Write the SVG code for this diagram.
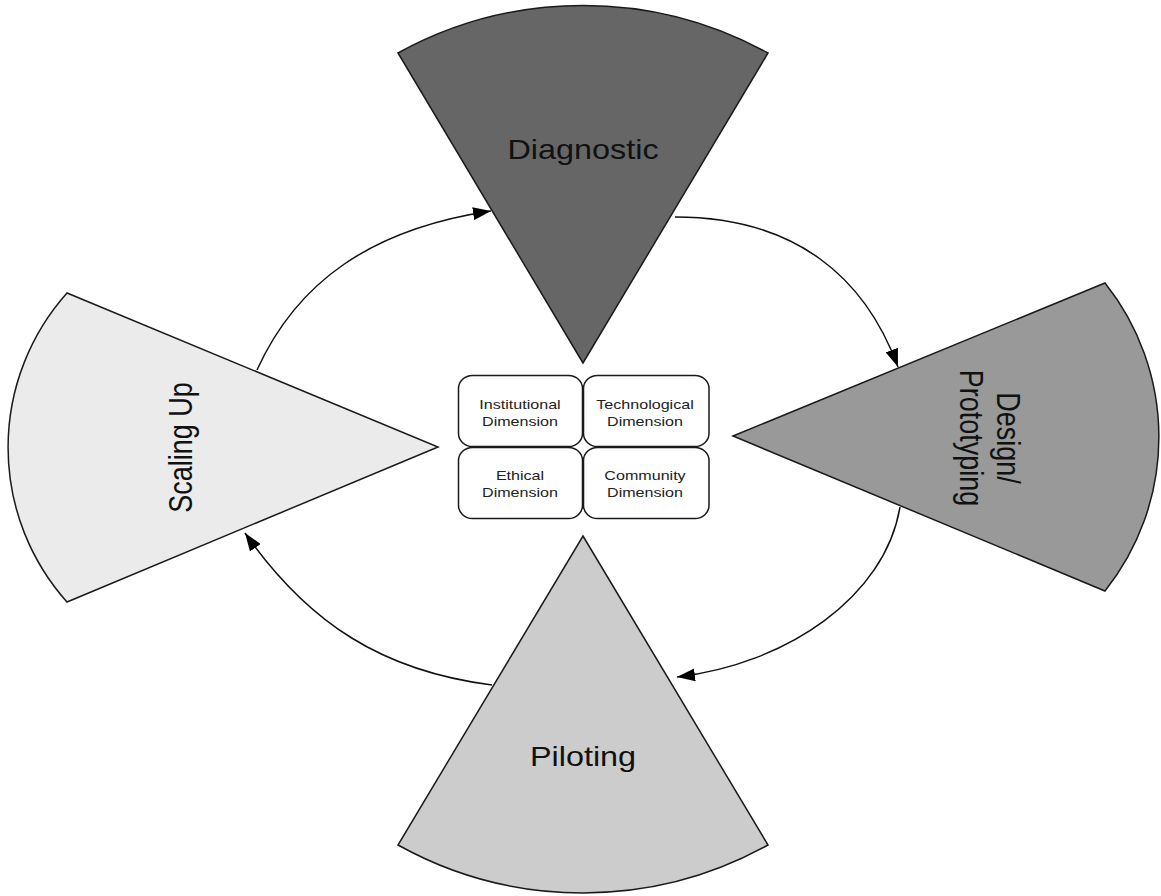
<svg xmlns="http://www.w3.org/2000/svg" width="1161" height="896" viewBox="0 0 1161 896">
  <style>
    .sector { stroke: #1a1a1a; stroke-width: 1.5; stroke-linejoin: miter; }
    .dim { fill: #ffffff; stroke: #1a1a1a; stroke-width: 1.5; }
    .label { font-family: "Liberation Sans", Arial, sans-serif; font-size: 27px; fill: #111111; text-anchor: middle; }
    .small { font-family: "Liberation Sans", Arial, sans-serif; font-size: 13.4px; fill: #222222; text-anchor: middle; }
    .link { fill: none; stroke: #111111; stroke-width: 1.5; }
  </style>
  <defs>
    <marker id="arrow" markerUnits="userSpaceOnUse" markerWidth="19" markerHeight="13" refX="18" refY="6.5" orient="auto">
      <path d="M0,0 L18,6.5 L0,13 Z" fill="#000000"/>
    </marker>
  </defs>
  <rect width="1161" height="896" fill="#ffffff"/>

  <!-- cycle connectors, drawn beneath the phase sectors -->
  <g id="connectors">
    <path class="link" d="M257,370 C297,282 371,229 491,211" marker-end="url(#arrow)"/>
    <path class="link" d="M675,217 C795,217 865,277 898,367" marker-end="url(#arrow)"/>
    <path class="link" d="M900,507 C885,597 787,664 677,677" marker-end="url(#arrow)"/>
    <path class="link" d="M492,685 C382,671 308,623 245,533" marker-end="url(#arrow)"/>
  </g>

  <g id="diagnostic">
    <path class="sector" fill="#666666" d="M583,363 L398,53 A384,384 0 0 1 768,53 Z"/>
    <text class="label" transform="translate(583,159) scale(1.2,1)">Diagnostic</text>
  </g>

  <g id="design-prototyping">
    <path class="sector" fill="#999999" d="M733,436 L1105,283 A247,247 0 0 1 1105,591 Z"/>
    <text class="label" transform="translate(997,438) scale(1.2,1) rotate(90)"><tspan x="0" y="0">Design/</tspan><tspan x="0" y="31">Prototyping</tspan></text>
  </g>

  <g id="piloting">
    <path class="sector" fill="#cccccc" d="M583,536 L768,845 A381,381 0 0 1 398,845 Z"/>
    <text class="label" transform="translate(583,766) scale(1.2,1)">Piloting</text>
  </g>

  <g id="scaling-up">
    <path class="sector" fill="#ebebeb" d="M438,447 L67,602 A232,232 0 0 1 67,293 Z"/>
    <text class="label" transform="translate(192,447.5) scale(1.2,1) rotate(-90)">Scaling Up</text>
  </g>

  <!-- four dimensions in the centre -->
  <g id="institutional-dimension">
    <rect class="dim" x="458.5" y="375.5" width="124" height="71" rx="14" ry="13"/>
    <text class="small" transform="translate(520,409) scale(1.2,1)"><tspan x="0" y="0">Institutional</tspan><tspan x="0" y="17.5">Dimension</tspan></text>
  </g>
  <g id="technological-dimension">
    <rect class="dim" x="583.5" y="375.5" width="125.5" height="71" rx="14" ry="13"/>
    <text class="small" transform="translate(645,409) scale(1.2,1)"><tspan x="0" y="0">Technological</tspan><tspan x="0" y="17.5">Dimension</tspan></text>
  </g>
  <g id="ethical-dimension">
    <rect class="dim" x="458.5" y="447.5" width="124" height="71" rx="14" ry="13"/>
    <text class="small" transform="translate(520,480) scale(1.2,1)"><tspan x="0" y="0">Ethical</tspan><tspan x="0" y="17">Dimension</tspan></text>
  </g>
  <g id="community-dimension">
    <rect class="dim" x="583.5" y="447.5" width="125.5" height="71" rx="14" ry="13"/>
    <text class="small" transform="translate(645,480) scale(1.2,1)"><tspan x="0" y="0">Community</tspan><tspan x="0" y="17">Dimension</tspan></text>
  </g>
</svg>
